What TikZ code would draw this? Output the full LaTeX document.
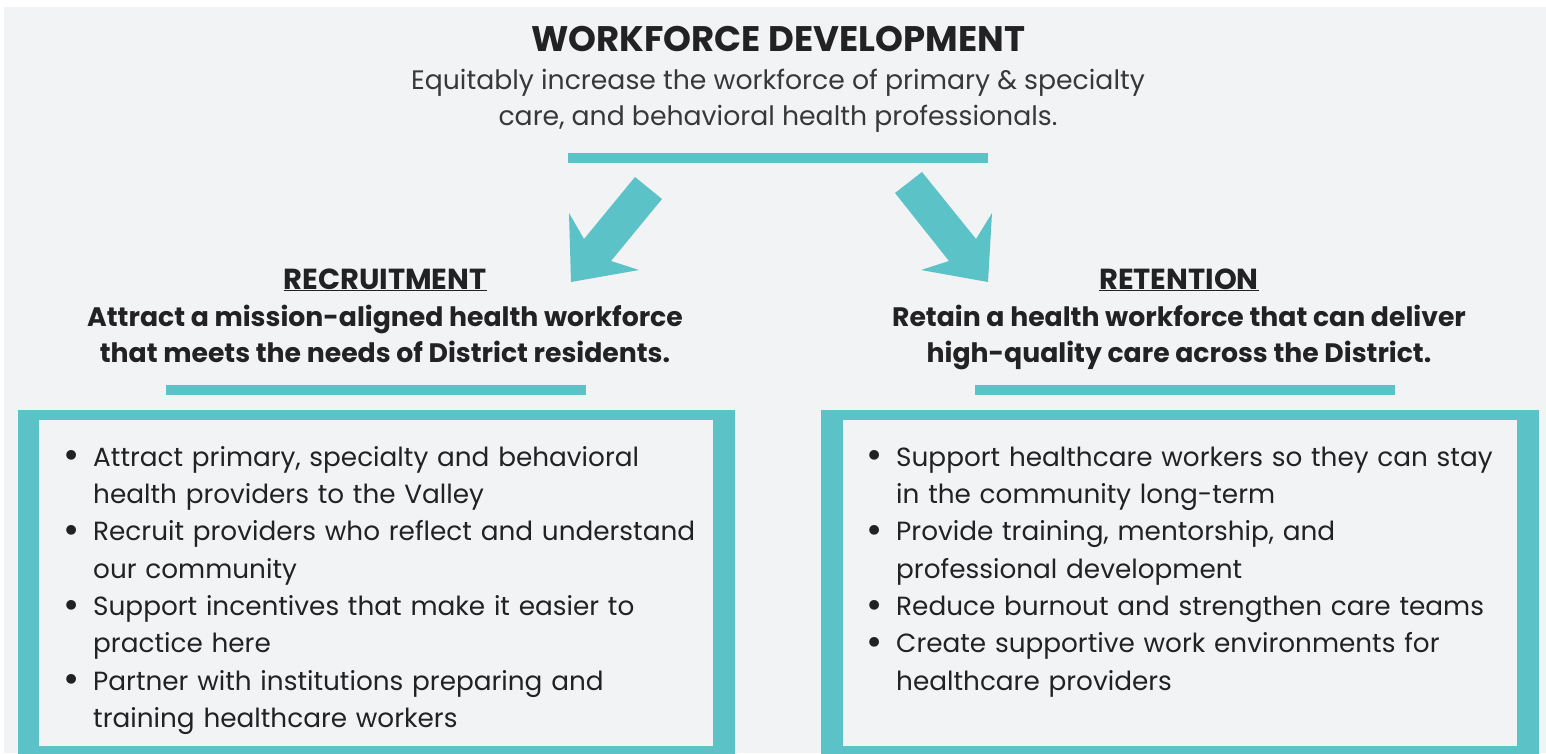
\documentclass[tikz,border=0pt]{standalone}
\usepackage{fontspec}
\setmainfont{Poppins}
\usepackage{enumitem}
\usetikzlibrary{positioning}
\definecolor{wfteal}{RGB}{91,194,199}
\definecolor{wfpaper}{RGB}{242,243,245}
\definecolor{wfink}{RGB}{34,34,36}
\newcommand{\wfdot}{\raisebox{-2.5pt}{\scalebox{1.5}{\textbullet}}}

\begin{document}
\begin{tikzpicture}[x=1pt,y=-1pt,text=wfink,inner sep=0pt,
    bar/.style={fill=wfteal},
    fatarrow/.style={fill=wfteal},
    titletext/.style={font=\fontsize{35.5}{40}\selectfont\bfseries,anchor=base},
    subtext/.style={font=\fontsize{26.7}{36}\selectfont,align=center,anchor=base,text=wfink!90},
    headtext/.style={font=\fontsize{29}{32}\selectfont\bfseries,anchor=base},
    goaltext/.style={font=\fontsize{26.7}{35.5}\selectfont\bfseries,align=center,anchor=base},
    listtext/.style={font=\fontsize{26.3}{37.3}\selectfont,text width=660pt,anchor=base west,align=left}]
  \useasboundingbox (0,0) rectangle (1546,753);
  \fill[white] (0,0) rectangle (1546,753);
  \fill[wfpaper] (4,7) rectangle (1546,753);

  % heading (base anchor sits on the last line)
  \node[titletext] (title) at (778,51) {WORKFORCE DEVELOPMENT};
  \node[subtext] (aim) at (778,125) {Equitably increase the workforce of primary \& specialty\\care, and behavioral health professionals.};
  \fill[bar] (568,153) rectangle (988,163);

  % the two arrows
  \fill[fatarrow] (635,177) -- (662,199) -- (611,261) -- (639,270) -- (571,282) -- (569,213) -- (584,239) -- cycle;
  \fill[fatarrow] (922,172) -- (895,193) -- (949,261) -- (921,270) -- (988,282) -- (992,213) -- (976,239) -- cycle;

  % recruitment
  \node[headtext] (rec) at (385,289) {\underline{RECRUITMENT}};
  \node[goaltext] (recgoal) at (385,362) {Attract a mission-aligned health workforce\\that meets the needs of District residents.};
  \fill[bar] (166,385) rectangle (586,395);
  \fill[wfteal] (18,410) rectangle (735,760);
  \fill[wfpaper] (39,420) rectangle (713,746);
  \node[listtext] (reclist) at (53,429) {%
    \begin{itemize}[label=\wfdot,leftmargin=40pt,labelsep=13pt,itemsep=0pt,topsep=0pt,parsep=0pt,partopsep=0pt]
      \item Attract primary, specialty and behavioral\newline health providers to the Valley
      \item Recruit providers who reflect and understand\newline our community
      \item Support incentives that make it easier to\newline practice here
      \item Partner with institutions preparing and\newline training healthcare workers
    \end{itemize}};

  % retention
  \node[headtext] (ret) at (1179,289) {\underline{RETENTION}};
  \node[goaltext] (retgoal) at (1179,362) {Retain a health workforce that can deliver\\high-quality care across the District.};
  \fill[bar] (975,385) rectangle (1395,395);
  \fill[wfteal] (821,410) rectangle (1539,760);
  \fill[wfpaper] (843,420) rectangle (1517,746);
  \node[listtext] (retlist) at (856,429) {%
    \begin{itemize}[label=\wfdot,leftmargin=40pt,labelsep=13pt,itemsep=0pt,topsep=0pt,parsep=0pt,partopsep=0pt]
      \item Support healthcare workers so they can stay\newline in the community long-term
      \item Provide training, mentorship, and\newline professional development
      \item Reduce burnout and strengthen care teams
      \item Create supportive work environments for\newline healthcare providers
    \end{itemize}};
\end{tikzpicture}
\end{document}
